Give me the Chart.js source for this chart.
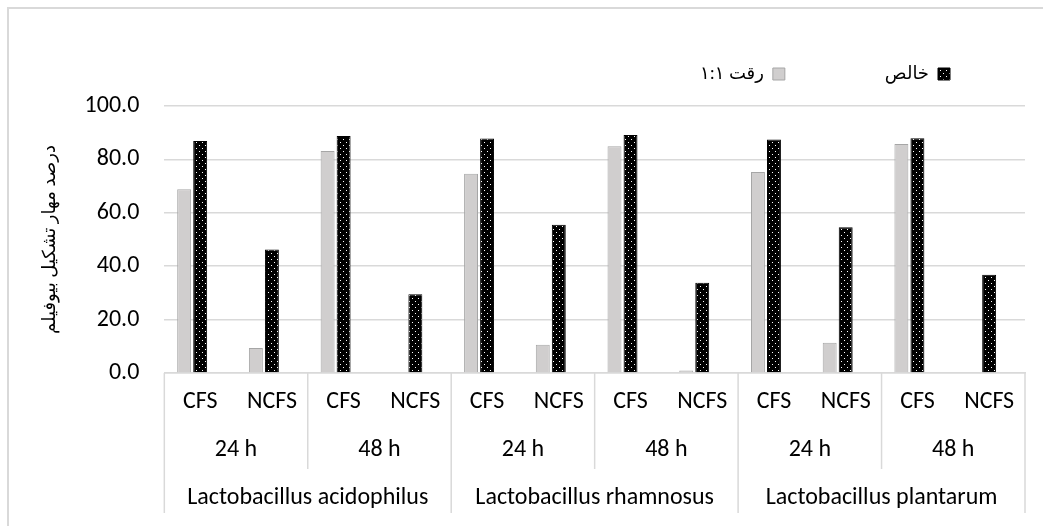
<!DOCTYPE html>
<html>
<head>
<meta charset="utf-8">
<script src="https://cdn.jsdelivr.net/npm/chart.js@4.4.1/dist/chart.umd.min.js"></script>
<style>
  html, body { margin: 0; padding: 0; background: #fff; overflow: hidden; }
  #frame { position: absolute; left: 7px; top: 7px; width: 1100px; height: 600px; border: 2px solid #d9d9d9; box-sizing: border-box; }
  #wrap { position: absolute; left: 0; top: 0; width: 1043px; height: 526px; }
</style>
</head>
<body>
<div id="frame"></div>
<div id="wrap"><canvas id="biofilmChart" width="1043" height="526"></canvas></div>
<script>
// x axis levels
var treatments = ["CFS", "NCFS", "CFS", "NCFS", "CFS", "NCFS", "CFS", "NCFS", "CFS", "NCFS", "CFS", "NCFS"];
var hours = ["24 h", "48 h", "24 h", "48 h", "24 h", "48 h"];
var species = ["Lactobacillus acidophilus", "Lactobacillus rhamnosus", "Lactobacillus plantarum"];

// series (% biofilm inhibition)
var dilutedLabel = "رقت ۱:۱";
var diluted = [68.8, 9.4, 83.1, 0, 74.6, 10.6, 84.9, 0.9, 75.3, 11.3, 85.8, 0];
var pureLabel = "خالص";
var pure = [86.9, 46.3, 88.8, 29.5, 87.8, 55.5, 89.1, 33.8, 87.5, 54.6, 87.9, 36.8];
var extra = [0.4, 0.4, 0.4, 0.4, 0.4, 0.4, 0.4, 0.4, 0.4, 0.4, 0.4, 0.4];

var yTicks = [0, 20, 40, 60, 80, 100];
var yTitle = "درصد مهار تشکیل بیوفیلم";

var latin = "Carlito, Lato, 'Liberation Sans', sans-serif";
var persian = "'Liberation Serif', 'DejaVu Sans', serif";
var lineGray = '#d9d9d9';

function dotPattern() {
  var c = document.createElement('canvas');
  c.width = 6; c.height = 6;
  var g = c.getContext('2d');
  g.fillStyle = '#000';
  g.fillRect(0, 0, 6, 6);
  g.fillStyle = '#fff';
  g.fillRect(1, 1, 1, 1);
  g.fillRect(4, 4, 1, 1);
  return g.createPattern(c, 'repeat');
}

// the legend sits right of centre with wide gaps, as in the original
var legendNudge = {
  id: 'legendNudge',
  afterLayout: function (chart) {
    var lg = chart.legend;
    lg.left += 25; lg.right += 25;
    lg.top = -35;
  }
};

// group separators under the category axis
var separators = {
  id: 'separators',
  afterDraw: function (chart) {
    var x = chart.scales.x, x2 = chart.scales.x2, x3 = chart.scales.x3;
    var perHour = treatments.length / hours.length;
    var perSpecies = treatments.length / species.length;
    var g = chart.ctx;
    g.save();
    g.strokeStyle = lineGray;
    g.lineWidth = 1.5;
    for (var i = 0; i <= treatments.length; i += perHour) {
      var px = x.getPixelForValue(i - 0.5);
      var bottom = i % perSpecies === 0 ? x3.bottom : x2.bottom;
      g.beginPath();
      g.moveTo(px, x.top);
      g.lineTo(px, bottom);
      g.stroke();
    }
    g.restore();
  }
};

var ctx = document.getElementById('biofilmChart');
var chart = new Chart(ctx, {
  type: 'bar',
  data: {
    labels: treatments,
    datasets: [{
      label: dilutedLabel,
      data: diluted,
      backgroundColor: '#d0cece',
      borderColor: '#a6a6a6',
      borderWidth: 1
    }, {
      label: pureLabel,
      data: pure,
      backgroundColor: dotPattern(),
      borderColor: '#000',
      borderWidth: 1
    }, {
      label: '',
      data: extra,
      backgroundColor: lineGray,
      borderWidth: 0
    }]
  },
  options: {
    responsive: false,
    animation: false,
    datasets: {
      bar: { categoryPercentage: 0.67, barPercentage: 0.87 }
    },
    layout: { padding: { left: 39, right: 18, top: 0, bottom: 13 } },
    plugins: {
      tooltip: { enabled: false },
      legend: {
        position: 'top',
        align: 'start',
        rtl: true,
        reverse: true,
        textDirection: 'ltr',
        maxHeight: 106,
        labels: {
          boxWidth: 12,
          boxHeight: 12,
          padding: 100,
          color: '#000',
          font: { family: persian, size: 18 },
          filter: function (item) { return item.text !== ''; }
        }
      }
    },
    scales: {
      y: {
        min: yTicks[0],
        max: yTicks[yTicks.length - 1],
        border: { display: false },
        grid: { color: lineGray, lineWidth: 1.5, drawTicks: false },
        ticks: {
          stepSize: yTicks[1] - yTicks[0],
          padding: 25,
          color: '#000',
          font: { family: latin, size: 24 },
          callback: function (v) { return v.toFixed(1); }
        },
        title: {
          display: true,
          text: yTitle,
          color: '#000',
          font: { family: persian, size: 18 },
          padding: { top: 0, bottom: -1 }
        }
      },
      x: {
        position: 'bottom',
        offset: true,
        border: { display: true, color: lineGray, width: 1.5 },
        grid: { offset: true, drawOnChartArea: false, drawTicks: false },
        ticks: {
          padding: 14.6,
          maxRotation: 0,
          autoSkip: false,
          color: '#000',
          font: { family: latin, size: 24 }
        }
      },
      x2: {
        type: 'category',
        labels: hours,
        position: 'bottom',
        offset: true,
        border: { display: false },
        grid: { offset: true, drawOnChartArea: false, drawTicks: false },
        ticks: {
          padding: 4.6,
          maxRotation: 0,
          autoSkip: false,
          color: '#000',
          font: { family: latin, size: 24 }
        }
      },
      x3: {
        type: 'category',
        labels: species,
        position: 'bottom',
        offset: true,
        border: { display: false },
        grid: { offset: true, drawOnChartArea: false, tickLength: 14, color: 'rgba(0,0,0,0)' },
        ticks: {
          padding: 0.6,
          maxRotation: 0,
          autoSkip: false,
          color: '#000',
          font: { family: latin, size: 24 }
        }
      }
    }
  },
  plugins: [legendNudge, separators]
});
</script>
</body>
</html>
